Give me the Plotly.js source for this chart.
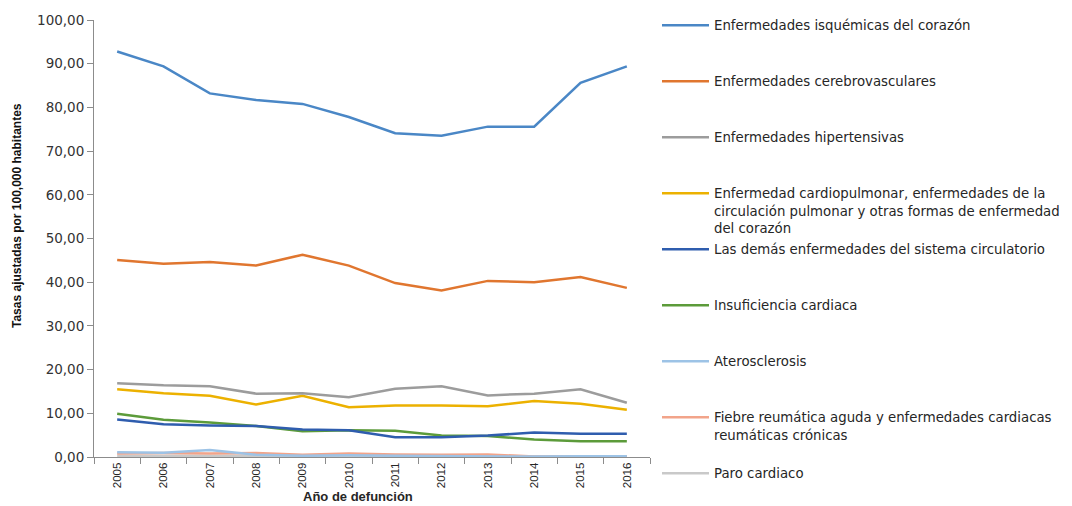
<!DOCTYPE html>
<html>
<head>
<meta charset="utf-8">
<script src="https://cdn.plot.ly/plotly-3.0.1.min.js"></script>
<style>html,body{margin:0;padding:0;background:#fff;}#chart{width:1072px;height:506px;}</style>
</head>
<body>
<div id="chart"></div>
<script>
const years = ['2005','2006','2007','2008','2009','2010','2011','2012','2013','2014','2015','2016'];
const isquemicas      = [92.8, 89.4, 83.2, 81.7, 80.8, 77.8, 74.1, 73.5, 75.6, 75.6, 85.6, 89.4];
const cerebrovasc     = [45.1, 44.2, 44.6, 43.8, 46.3, 43.8, 39.8, 38.1, 40.3, 40.0, 41.2, 38.7];
const hipertensivas   = [16.9, 16.4, 16.2, 14.5, 14.6, 13.7, 15.6, 16.2, 14.1, 14.5, 15.5, 12.4];
const cardiopulmonar  = [15.5, 14.6, 14.0, 12.0, 14.0, 11.4, 11.8, 11.8, 11.6, 12.8, 12.2, 10.8];
const lasDemas        = [8.6, 7.5, 7.2, 7.1, 6.3, 6.1, 4.5, 4.5, 4.9, 5.6, 5.3, 5.3];
const insuficiencia   = [9.9, 8.5, 7.9, 7.1, 5.9, 6.1, 6.0, 4.9, 4.8, 4.0, 3.6, 3.6];
const aterosclerosis  = [1.1, 1.0, 1.6, 0.5, 0.3, 0.4, 0.3, 0.2, 0.2, 0.1, 0.2, 0.2];
const fiebreReumatica = [0.8, 0.9, 0.8, 0.9, 0.5, 0.8, 0.6, 0.5, 0.6, 0.1, 0.1, 0.1];
const paroCardiaco    = [0.3, 0.3, 0.3, 0.3, 0.3, 0.3, 0.3, 0.2, 0.2, 0.1, 0.2, 0.2];

const seriesNames = [
  'Enfermedades isquémicas del corazón',
  'Enfermedades cerebrovasculares',
  'Enfermedades hipertensivas',
  'Enfermedad cardiopulmonar, enfermedades de la<br>circulación pulmonar y otras formas de enfermedad<br>del corazón',
  'Las demás enfermedades del sistema circulatorio',
  'Insuficiencia cardiaca',
  'Aterosclerosis',
  'Fiebre reumática aguda y enfermedades cardiacas<br>reumáticas crónicas',
  'Paro cardiaco'
];
const seriesValues = [isquemicas, cerebrovasc, hipertensivas, cardiopulmonar, lasDemas, insuficiencia, aterosclerosis, fiebreReumatica, paroCardiaco];
const seriesColors = ['#4a87c6', '#e0762f', '#9c9c9c', '#ecb100', '#2f5dae', '#5c9b3a', '#9dc3e6', '#f2a48a', '#c9c9c9'];

// plot area geometry (pixels)
const W = 1072, H = 506;
const PL = 94, PR = 650, PT = 20, PB = 457;
const legendPy = [25, 81, 137, 193, 249, 305, 361, 417, 473];
function paperY(py) { return (PB - py) / (PB - PT); }
function paperX(px) { return (px - PL) / (PR - PL); }

const FONT = 'DejaVu Sans, Liberation Sans, Arial, sans-serif';
const textColor = '#262626';

const traces = [];
const layout = {
  width: W, height: H,
  margin: {l: PL, r: W - PR, t: PT, b: H - PB, pad: 0, autoexpand: false},
  paper_bgcolor: '#ffffff', plot_bgcolor: '#ffffff',
  font: {family: FONT, size: 13, color: textColor},
  showlegend: true,
  xaxis: {
    type: 'category',
    range: [-0.5, 11.5],
    showgrid: false, zeroline: false,
    showline: true, linecolor: '#8c8c8c', linewidth: 1,
    ticks: 'outside', tickson: 'boundaries', ticklen: 6, tickcolor: '#8c8c8c',
    tickangle: -90,
    tickfont: {family: 'Liberation Sans Narrow, Liberation Sans, Arial Narrow, sans-serif', size: 11.5, color: textColor},
    fixedrange: true
  },
  yaxis: {
    range: [0, 100],
    tickvals: [0, 10, 20, 30, 40, 50, 60, 70, 80, 90, 100],
    tickformat: '.2f',
    showgrid: false, zeroline: false,
    showline: true, linecolor: '#8c8c8c', linewidth: 1,
    ticks: 'outside', ticklen: 6, tickcolor: '#8c8c8c',
    tickfont: {family: FONT, size: 13.5, color: '#333333'},
    fixedrange: true
  },
  separators: ',.',
  annotations: [
    {
      text: '<b>Tasas ajustadas por 100,000 habitantes</b>',
      xref: 'paper', yref: 'paper', x: paperX(17), y: paperY(216),
      xanchor: 'center', yanchor: 'middle', textangle: -90, showarrow: false,
      font: {family: 'Liberation Sans Narrow, Liberation Sans, Arial Narrow, sans-serif', size: 12, color: '#111111'}
    },
    {
      text: '<b>Año de defunción</b>',
      xref: 'paper', yref: 'paper', x: paperX(358), y: paperY(497),
      xanchor: 'center', yanchor: 'middle', showarrow: false,
      font: {family: 'Liberation Sans, Arial, sans-serif', size: 13, color: '#262626'}
    }
  ]
};

for (let i = 0; i < seriesNames.length; i++) {
  const lg = i === 0 ? 'legend' : 'legend' + (i + 1);
  traces.push({
    type: 'scatter', mode: 'lines',
    x: years, y: seriesValues[i],
    name: seriesNames[i],
    line: {color: seriesColors[i], width: 2.5},
    legend: lg,
    hoverinfo: 'x+y+name'
  });
  layout[lg] = {
    xref: 'container', yref: 'container',
    x: 657 / W, xanchor: 'left',
    y: 1 - (legendPy[i] - 15) / H, yanchor: 'top',
    valign: 'top',
    bgcolor: 'rgba(0,0,0,0)', borderwidth: 0,
    itemwidth: 47,
    font: {family: FONT, size: 13.3, color: textColor},
    itemclick: false, itemdoubleclick: false
  };
}

const ordered = traces.slice().reverse();
Plotly.newPlot('chart', ordered, layout, {displayModeBar: false, staticPlot: true});
</script>
</body>
</html>
